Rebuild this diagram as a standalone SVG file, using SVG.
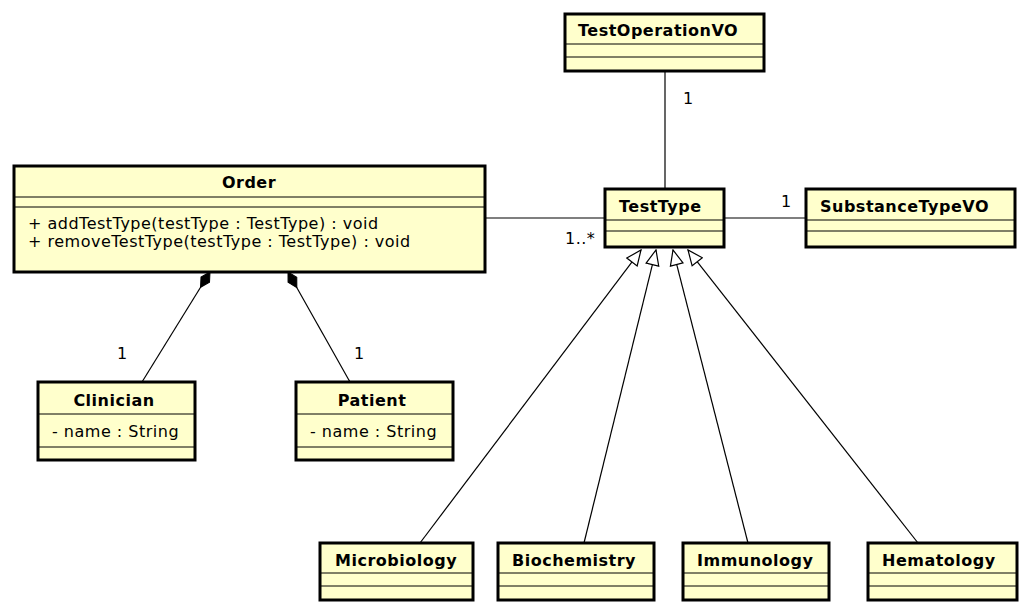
<svg xmlns="http://www.w3.org/2000/svg" width="1029" height="614" viewBox="0 0 1029 614">
<style>
.box{fill:#FFFFCC;stroke:#000;stroke-width:3}
.sep{stroke:#000;stroke-width:1}
.name{font-family:"DejaVu Sans",sans-serif;font-size:16px;letter-spacing:0.5px;font-weight:bold;fill:#000}
.txt{font-family:"DejaVu Sans",sans-serif;font-size:16px;letter-spacing:0.5px;fill:#000}
.lbl{font-family:"DejaVu Sans",sans-serif;font-size:16px;letter-spacing:0.5px;fill:#000}
.conn{stroke:#000;stroke-width:1.2;fill:none}
</style>
<defs>
<marker id="tri" viewBox="0 0 17 15" refX="16" refY="7.5" markerWidth="17" markerHeight="15" markerUnits="userSpaceOnUse" orient="auto">
<path d="M1,1 L16,7.5 L1,14 Z" fill="#fff" stroke="#000" stroke-width="1.2"/>
</marker>
<marker id="dia" viewBox="0 0 20 12" refX="1" refY="6" markerWidth="20" markerHeight="12" markerUnits="userSpaceOnUse" orient="auto">
<path d="M1,6 L10,1 L19,6 L10,11 Z" fill="#000" stroke="#000" stroke-width="1"/>
</marker>
</defs>
<g id="connectors">
<line class="conn" x1="665" y1="71" x2="665" y2="189"/>
<line class="conn" x1="485" y1="218" x2="605" y2="218"/>
<line class="conn" x1="724" y1="218" x2="806" y2="218"/>
<path class="conn" d="M210,272 L142,382" marker-start="url(#dia)"/>
<path class="conn" d="M288,272 L350,382" marker-start="url(#dia)"/>
<path class="conn" d="M420,543 L641,250" marker-end="url(#tri)"/>
<path class="conn" d="M584,543 L656,250" marker-end="url(#tri)"/>
<path class="conn" d="M748,543 L673,250" marker-end="url(#tri)"/>
<path class="conn" d="M918,543 L688,250" marker-end="url(#tri)"/>
<text class="lbl" x="683" y="104">1</text>
<text class="lbl" x="565" y="244">1..*</text>
<text class="lbl" x="781" y="207">1</text>
<text class="lbl" x="117" y="359">1</text>
<text class="lbl" x="354" y="359">1</text>
</g>
<g id="TestOperationVO">
<rect class="box" x="565" y="14" width="199" height="57"/>
<line class="sep" x1="566" y1="44" x2="763" y2="44"/>
<line class="sep" x1="566" y1="57" x2="763" y2="57"/>
<text class="name" x="578" y="36">TestOperationVO</text>
</g>
<g id="Order">
<rect class="box" x="14" y="166" width="471" height="106"/>
<line class="sep" x1="15" y1="197" x2="484" y2="197"/>
<line class="sep" x1="15" y1="207" x2="484" y2="207"/>
<text class="name" x="249" y="188" text-anchor="middle">Order</text>
<text class="txt" x="28" y="229">+ addTestType(testType : TestType) : void</text>
<text class="txt" x="28" y="247">+ removeTestType(testType : TestType) : void</text>
</g>
<g id="TestType">
<rect class="box" x="605" y="189" width="119" height="58"/>
<line class="sep" x1="606" y1="220" x2="723" y2="220"/>
<line class="sep" x1="606" y1="231" x2="723" y2="231"/>
<text class="name" x="619" y="212">TestType</text>
</g>
<g id="SubstanceTypeVO">
<rect class="box" x="806" y="189" width="209" height="58"/>
<line class="sep" x1="807" y1="220" x2="1014" y2="220"/>
<line class="sep" x1="807" y1="231" x2="1014" y2="231"/>
<text class="name" x="820" y="212">SubstanceTypeVO</text>
</g>
<g id="Clinician">
<rect class="box" x="38" y="382" width="157" height="78"/>
<line class="sep" x1="39" y1="414" x2="194" y2="414"/>
<line class="sep" x1="39" y1="447" x2="194" y2="447"/>
<text class="name" x="114" y="406" text-anchor="middle">Clinician</text>
<text class="txt" x="52" y="437">- name : String</text>
</g>
<g id="Patient">
<rect class="box" x="296" y="382" width="157" height="78"/>
<line class="sep" x1="297" y1="414" x2="452" y2="414"/>
<line class="sep" x1="297" y1="447" x2="452" y2="447"/>
<text class="name" x="372" y="406" text-anchor="middle">Patient</text>
<text class="txt" x="310" y="437">- name : String</text>
</g>
<g id="Microbiology">
<rect class="box" x="320" y="543" width="153" height="57"/>
<line class="sep" x1="321" y1="573" x2="472" y2="573"/>
<line class="sep" x1="321" y1="586" x2="472" y2="586"/>
<text class="name" x="335" y="566">Microbiology</text>
</g>
<g id="Biochemistry">
<rect class="box" x="498" y="543" width="156" height="57"/>
<line class="sep" x1="499" y1="573" x2="653" y2="573"/>
<line class="sep" x1="499" y1="586" x2="653" y2="586"/>
<text class="name" x="512" y="566">Biochemistry</text>
</g>
<g id="Immunology">
<rect class="box" x="683" y="543" width="146" height="57"/>
<line class="sep" x1="684" y1="573" x2="828" y2="573"/>
<line class="sep" x1="684" y1="586" x2="828" y2="586"/>
<text class="name" x="697" y="566">Immunology</text>
</g>
<g id="Hematology">
<rect class="box" x="868" y="543" width="149" height="57"/>
<line class="sep" x1="869" y1="573" x2="1016" y2="573"/>
<line class="sep" x1="869" y1="586" x2="1016" y2="586"/>
<text class="name" x="882" y="566">Hematology</text>
</g>
</svg>
